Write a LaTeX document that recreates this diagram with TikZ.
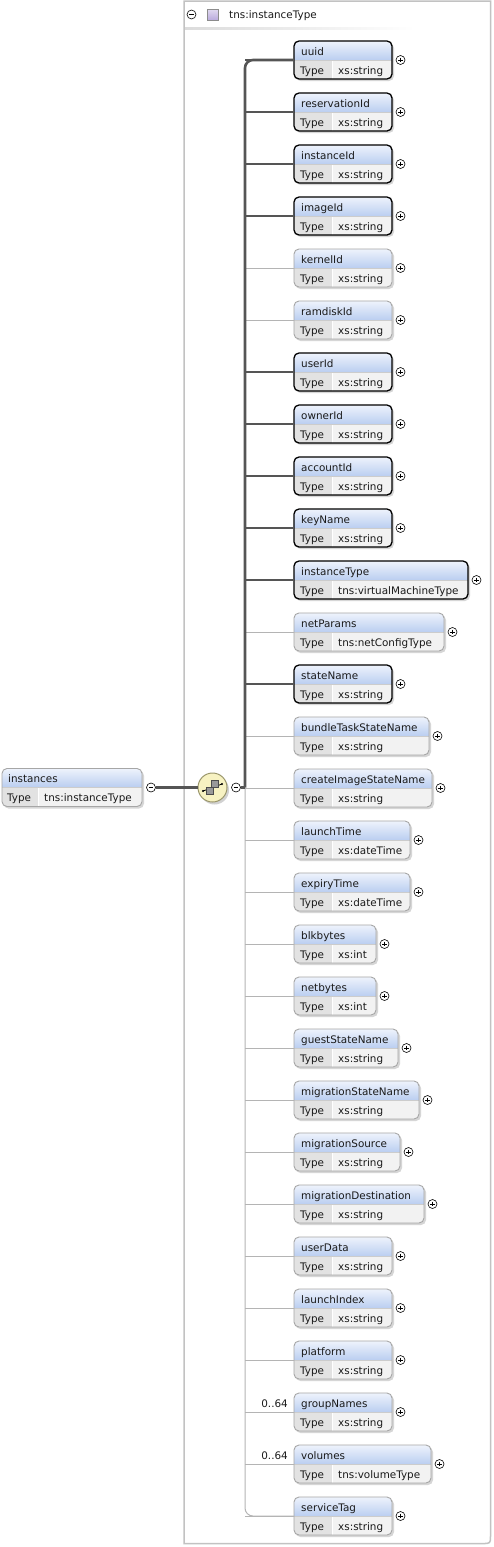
\documentclass[tikz,border=0pt]{standalone}
\usepackage{fontspec}
\setmainfont{DejaVu Sans}
\usetikzlibrary{calc}
\definecolor{hdrtop}{HTML}{EEF3FC}
\definecolor{hdrbot}{HTML}{B9CDF0}
\definecolor{typecol}{HTML}{E2E2E2}
\definecolor{valcol}{HTML}{F2F2F2}
\definecolor{txt}{HTML}{1A1A1A}
\definecolor{buscol}{HTML}{555555}
\definecolor{optcol}{HTML}{B4B4B4}
\definecolor{framecol}{HTML}{C2C2C2}
\definecolor{seqfill}{HTML}{F7F2C2}
\definecolor{lav}{HTML}{B8A8DC}
\tikzset{
 lbl/.style={inner sep=0pt, font=\fontsize{10.4}{12}\selectfont, text=txt},
 box-req/.style={draw=black, line width=1.3pt, rounded corners=5pt},
 box-opt/.style={draw=black!35, line width=0.9pt, rounded corners=5pt},
 line-req/.style={draw=buscol, line width=2.6pt},
 line-opt/.style={draw=optcol, line width=1pt},
 pmcirc/.style={circle, draw=black, line width=0.6pt, fill=white, minimum size=9pt, inner sep=0pt},
 plusmark/.style={pmcirc, path picture={\draw[line width=0.7pt] (path picture bounding box.center) ++(-2.3,0) -- ++(4.6,0) (path picture bounding box.center) ++(0,-2.3) -- ++(0,4.6);}},
 minusmark/.style={pmcirc, path picture={\draw[line width=0.7pt] (path picture bounding box.center) ++(-2.3,0) -- ++(4.6,0);}},
}
\begin{document}
\begin{tikzpicture}[x=1pt,y=-1pt]
\useasboundingbox (0,0) rectangle (493,1547);
\fill[white] (0,0) rectangle (493,1547);
% container frame
\draw[framecol, line width=1.5pt] (184,1) -- (490.5,1) -- (490.5,1535.5) .. controls (490.5,1543.5) .. (482.5,1543.5) -- (184,1543.5) -- cycle;
% header
\node[minusmark] (hmin) at (191.5,14.5) {};
\shade[top color=lav!45, bottom color=lav, draw=black!45, line width=0.6pt] (207,9.5) rectangle (218,20.5);
\node[lbl, anchor=base west] (htitle) at (229,19) {tns:instanceType};
\shade[left color=black!14, right color=white] (185,27.5) rectangle (415,29.5);
% bus
\coordinate (join) at (245,787.5);
% elements
\foreach \id/\nm/\ty/\tp/\rt/\st in {
 e1/uuid/xs:string/41/392/req,
 e2/reservationId/xs:string/93/392/req,
 e3/instanceId/xs:string/145/392/req,
 e4/imageId/xs:string/197/392/req,
 e5/kernelId/xs:string/249/392/opt,
 e6/ramdiskId/xs:string/301/392/opt,
 e7/userId/xs:string/353/392/req,
 e8/ownerId/xs:string/405/392/req,
 e9/accountId/xs:string/457/392/req,
 e10/keyName/xs:string/509/392/req,
 e11/instanceType/tns:virtualMachineType/561/468/req,
 e12/netParams/tns:netConfigType/613/444/opt,
 e13/stateName/xs:string/665/392/req,
 e14/bundleTaskStateName/xs:string/717/429/opt,
 e15/createImageStateName/xs:string/769/432/opt,
 e16/launchTime/xs:dateTime/821/410/opt,
 e17/expiryTime/xs:dateTime/873/410/opt,
 e18/blkbytes/xs:int/925/376/opt,
 e19/netbytes/xs:int/977/376/opt,
 e20/guestStateName/xs:string/1029/398/opt,
 e21/migrationStateName/xs:string/1081/419/opt,
 e22/migrationSource/xs:string/1133/400/opt,
 e23/migrationDestination/xs:string/1185/424/opt,
 e24/userData/xs:string/1237/392/opt,
 e25/launchIndex/xs:string/1289/392/opt,
 e26/platform/xs:string/1341/392/opt,
 e27/groupNames/xs:string/1393/392/opt,
 e28/volumes/tns:volumeType/1445/431/opt,
 e29/serviceTag/xs:string/1497/392/opt}{
  \fill[black!16, rounded corners=5pt] (295.5,\tp+2) rectangle (\rt+2,\tp+40);
  \begin{scope}
   \clip[rounded corners=5pt] (294,\tp) rectangle (\rt,\tp+38);
   \shade[top color=hdrtop, bottom color=hdrbot] (294,\tp) rectangle (\rt,\tp+19.5);
   \fill[typecol] (294,\tp+19.5) rectangle (332,\tp+38);
   \fill[valcol] (332,\tp+19.5) rectangle (\rt,\tp+38);
   \draw[white, line width=0.8pt] (332,\tp+19.5) -- (332,\tp+38);
   \draw[black!20, line width=0.5pt] (294,\tp+19.5) -- (\rt,\tp+19.5);
  \end{scope}
  \node[box-\st, anchor=north west, minimum width={(\rt-294)*1pt}, minimum height=38pt, inner sep=0pt, outer sep=0pt] (\id) at (294,\tp) {};
  \coordinate (\id-b) at (245,\tp+19);
  \draw[line-\st] (\id-b) -- (\id.west);
  \node[plusmark] (\id-x) at (\rt+8.5,\tp+19) {};
  \node[lbl, anchor=base west] (\id-n) at (301,\tp+14) {\nm};
  \node[lbl, anchor=base west] (\id-k) at (300,\tp+33) {Type};
  \node[lbl, anchor=base west] (\id-t) at (338,\tp+33) {\ty};
}
\draw[line-req, rounded corners=8pt] (e1.west) -| (join);
\draw[line-opt, rounded corners=8pt] (join) |- (e29.west);
% cardinalities
\node[lbl, anchor=base east] (c27) at (288,1407) {0..64};
\node[lbl, anchor=base east] (c28) at (288,1459) {0..64};
% root element
\fill[black!16, rounded corners=5pt] (3.5,770.5) rectangle (144,808.5);
\begin{scope}
 \clip[rounded corners=5pt] (2,768.5) rectangle (142,806.5);
 \shade[top color=hdrtop, bottom color=hdrbot] (2,768.5) rectangle (142,787.5);
 \fill[typecol] (2,787.5) rectangle (38,806.5);
 \fill[valcol] (38,787.5) rectangle (142,806.5);
 \draw[white, line width=0.8pt] (38,787.5) -- (38,806.5);
 \draw[black!20, line width=0.5pt] (2,787.5) -- (142,787.5);
\end{scope}
\node[box-opt, anchor=north west, minimum width=140pt, minimum height=38pt, inner sep=0pt, outer sep=0pt] (root) at (2,768.5) {};
\node[lbl, anchor=base west] (root-n) at (8,782) {instances};
\node[lbl, anchor=base west] (root-k) at (7,801) {Type};
\node[lbl, anchor=base west] (root-t) at (44,801) {tns:instanceType};
\node[minusmark] (rmin) at (151,787.5) {};
% sequence compositor
\fill[black!18] (214.5,790) circle (14.5);
\node[circle, draw=black!50!olive!60, fill=seqfill, line width=1pt, minimum size=29pt, inner sep=0pt] (seq) at (212.5,787.5) {};
\draw[line-req] (rmin.east) -- (seq.west);
\node[minusmark] (smin) at (236,787.5) {};
\draw[line-req] (smin.east) -- (join);
% sequence icon
\draw[black, line width=0.8pt] (203,791) -- (222,784);
\fill[black] (203,791) circle (1.2);
\fill[black] (222,784) circle (1.2);
\filldraw[fill=black!40, draw=black!70, line width=0.6pt] (206.5,787) rectangle (213.5,794);
\filldraw[fill=black!40, draw=black!70, line width=0.6pt] (211.5,780.5) rectangle (218.5,787.5);
\end{tikzpicture}
\end{document}
